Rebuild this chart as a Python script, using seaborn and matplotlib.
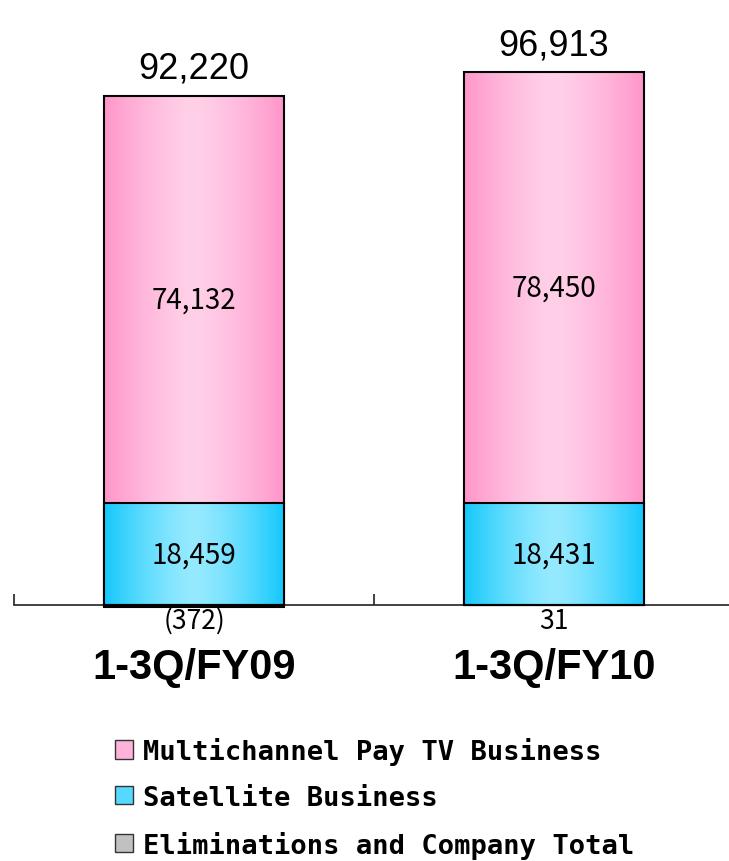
import numpy as np
import pandas as pd
import matplotlib
matplotlib.use("Agg")
import matplotlib.pyplot as plt
from matplotlib.patches import Patch, Rectangle
import seaborn as sns

# data
periods = ["1-3Q/FY09", "1-3Q/FY10"]
pay_tv = [74132, 78450]
satellite = [18459, 18431]
eliminations = [-372, 31]
totals = [92220, 96913]
legend_labels = ["Multichannel Pay TV Business", "Satellite Business",
                 "Eliminations and Company Total"]

df = pd.DataFrame({"period": periods, "pay_tv": pay_tv,
                   "satellite": satellite, "elim": eliminations})
df["sat_bottom"] = df["elim"].clip(lower=0)
df["sat_top"] = df["sat_bottom"] + df["satellite"]
df["pay_top"] = df["sat_top"] + df["pay_tv"]

PINK_EDGE, PINK_MID = np.array([255, 150, 202]), np.array([255, 208, 232])
CYAN_EDGE, CYAN_MID = np.array([20, 200, 252]), np.array([150, 234, 255])
GRAY_EDGE, GRAY_MID = np.array([150, 150, 150]), np.array([235, 235, 235])

sns.set_style("white")
plt.rcParams["font.family"] = ["Liberation Sans", "DejaVu Sans"]
plt.rcParams["text.color"] = "black"
plt.rcParams["xtick.color"] = "black"

fig = plt.figure(figsize=(7.29, 8.62), dpi=100)
ax = fig.add_axes([14 / 729, 1 - 626 / 862, 720 / 729, 626 / 862])


def gradient(edge, mid):
    t = np.linspace(0, 1, 256)
    f = 1 - np.abs(2 * t - 1) ** 1.4
    cols = edge[None, :] + (mid - edge)[None, :] * f[:, None]
    return (cols / 255.0)[None, :, :]


def layer(col, edge, mid, z):
    n0 = len(ax.patches)
    sns.barplot(data=df, x="period", y=col, color=mid / 255, saturation=1,
                width=0.5, errorbar=None, edgecolor="black", linewidth=0,
                ax=ax, zorder=z)
    for p in ax.patches[n0:]:
        x0, y0 = p.get_x(), p.get_y()
        w, h = p.get_width(), p.get_height()
        im = ax.imshow(gradient(edge, mid), extent=(x0, x0 + w, min(y0, y0 + h), max(y0, y0 + h)),
                       aspect="auto", interpolation="bilinear", zorder=z + 0.1)
        im.set_clip_path(p)
        ax.add_patch(Rectangle((x0, y0), w, h, fill=False, edgecolor="black",
                               linewidth=1.5, zorder=z + 0.2))


layer("pay_top", PINK_EDGE, PINK_MID, 2)
layer("sat_top", CYAN_EDGE, CYAN_MID, 3)
layer("elim", GRAY_EDGE, GRAY_MID, 4)

ax.set_xlim(-0.5, 1.5)
ax.set_ylim(-3636, 110170)
ax.set_xlabel("")
ax.set_ylabel("")
ax.set_yticks([])
for s in ["top", "right", "left"]:
    ax.spines[s].set_visible(False)
ax.spines["bottom"].set_position(("data", 0))
ax.spines["bottom"].set_linewidth(1.2)
ax.spines["bottom"].set_color("#222222")
ax.spines["bottom"].set_zorder(1)

ax.set_xticks([0, 1])
ax.set_xticklabels(periods, fontsize=30, fontweight="bold")
ax.tick_params(axis="x", which="major", bottom=True, length=0, pad=30)
ax.set_xticks([-0.5, 0.5, 1.5], minor=True)
ax.tick_params(axis="x", which="minor", bottom=True, direction="in", length=8,
               width=1.2, color="#222222")

num_font = ["Noto Sans CJK JP", "DejaVu Sans"]
for i, r in df.iterrows():
    ax.annotate(f"{totals[i]:,}", (i, r["pay_top"]), xytext=(0, 7),
                textcoords="offset points", ha="center", va="bottom",
                fontsize=26, zorder=10)
    ax.text(i, r["sat_top"] + r["pay_tv"] / 2, f"{r['pay_tv']:,}", ha="center",
            va="center", fontsize=20, family=num_font, zorder=10)
    ax.text(i, r["sat_bottom"] + r["satellite"] / 2, f"{r['satellite']:,}",
            ha="center", va="center", fontsize=20, family=num_font, zorder=10)
    e = r["elim"]
    lab = f"({abs(e):,})" if e < 0 else f"{e:,}"
    ax.annotate(lab, (i, 0), xytext=(0, -11), textcoords="offset points",
                ha="center", va="center", fontsize=19, family=num_font, zorder=10)

handles = [Patch(facecolor=(PINK_EDGE + PINK_MID) / 510, edgecolor="#333333", linewidth=1),
           Patch(facecolor=(CYAN_EDGE + CYAN_MID) / 510, edgecolor="#333333", linewidth=1),
           Patch(facecolor=(GRAY_EDGE + GRAY_MID) / 510, edgecolor="#333333", linewidth=1)]
fig.legend(handles, legend_labels, loc="upper left", bbox_to_anchor=(115 / 729, 1 - 738 / 862),
           frameon=False, borderpad=0, borderaxespad=0, handlelength=0.67,
           handleheight=0.67, handletextpad=0.35, labelspacing=0.73,
           prop={"family": "DejaVu Sans Mono", "weight": "bold", "size": 19.5})

fig.savefig("out.png", dpi=100, facecolor="white")
